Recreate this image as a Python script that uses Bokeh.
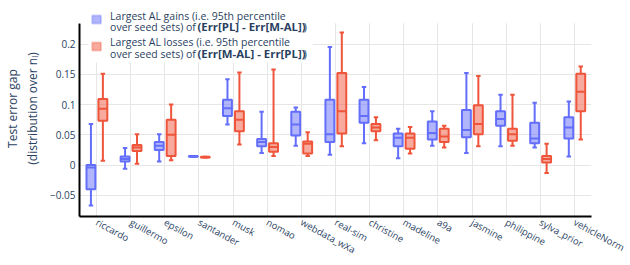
import pandas as pd
from bokeh.plotting import figure
from bokeh.models import (ColumnDataSource, FactorRange, Range1d, FixedTicker,
                          CustomJSTickFormatter, BoxAnnotation, Label)
from bokeh.transform import dodge
from bokeh.embed import file_html
from bokeh.resources import INLINE

categories = ["riccardo", "guillermo", "epsilon", "santander", "musk", "nomao",
              "webdata_wXa", "real-sim", "christine", "madeline", "a9a", "jasmine",
              "philippine", "sylva_prior", "vehicleNorm"]

# Largest AL gains (blue)
gain_lo  = [-0.067, -0.006, 0.006, 0.0135, 0.067, 0.020, 0.032, 0.017, 0.036, 0.011, 0.032, 0.020, 0.031, 0.029, 0.014]
gain_q1  = [-0.040, 0.006, 0.025, 0.0135, 0.081, 0.031, 0.049, 0.038, 0.070, 0.031, 0.042, 0.046, 0.065, 0.036, 0.044]
gain_med = [-0.004, 0.010, 0.032, 0.0142, 0.094, 0.038, 0.067, 0.051, 0.081, 0.045, 0.053, 0.058, 0.076, 0.044, 0.062]
gain_q3  = [0.000, 0.014, 0.038, 0.0150, 0.108, 0.043, 0.088, 0.108, 0.108, 0.052, 0.072, 0.091, 0.089, 0.070, 0.079]
gain_hi  = [0.068, 0.028, 0.051, 0.0150, 0.142, 0.088, 0.095, 0.195, 0.129, 0.060, 0.089, 0.152, 0.116, 0.103, 0.105]

# Largest AL losses (red)
loss_lo  = [0.007, 0.002, 0.008, 0.0125, 0.034, 0.015, 0.015, 0.031, 0.041, 0.019, 0.029, 0.031, 0.032, -0.013, 0.042]
loss_q1  = [0.073, 0.023, 0.015, 0.0125, 0.056, 0.022, 0.019, 0.052, 0.056, 0.027, 0.038, 0.051, 0.040, 0.004, 0.089]
loss_med = [0.093, 0.029, 0.050, 0.0130, 0.075, 0.030, 0.035, 0.089, 0.062, 0.045, 0.047, 0.068, 0.051, 0.010, 0.121]
loss_q3  = [0.109, 0.033, 0.075, 0.0135, 0.089, 0.036, 0.039, 0.152, 0.068, 0.052, 0.060, 0.099, 0.060, 0.015, 0.151]
loss_hi  = [0.151, 0.051, 0.100, 0.0135, 0.153, 0.158, 0.054, 0.219, 0.079, 0.063, 0.065, 0.147, 0.116, 0.035, 0.163]

y_ticks = [-0.05, 0.0, 0.05, 0.1, 0.15, 0.2]
Y_MIN, Y_MAX = -0.0851, 0.2344      # visible axis extent
Y_TOP = 0.2720                      # frame extended up to host the legend

BLUE = "#636efa"
RED = "#ef553b"
TXT = "#2a3f5f"
FONT = "Open Sans"

p = figure(x_range=FactorRange(factors=categories), y_range=Range1d(Y_MIN, Y_TOP),
           width=630, height=265, output_backend="svg", toolbar_location=None,
           min_border_left=67, min_border_right=39, min_border_top=0, min_border_bottom=49)
p.outline_line_color = None
p.background_fill_color = "white"
p.border_fill_color = "white"

BW = 0.26
CAP = 0.13

def draw(lo, q1, med, q3, hi, off, color):
    df = pd.DataFrame(dict(cat=categories, lo=lo, q1=q1, med=med, q3=q3, hi=hi))
    src = ColumnDataSource(df)
    xc = dodge("cat", off, range=p.x_range)
    p.segment(x0=xc, x1=xc, y0="lo", y1="q1", source=src, line_color=color, line_width=2)
    p.segment(x0=xc, x1=xc, y0="q3", y1="hi", source=src, line_color=color, line_width=2)
    xl = dodge("cat", off - CAP / 2, range=p.x_range)
    xr = dodge("cat", off + CAP / 2, range=p.x_range)
    p.segment(x0=xl, x1=xr, y0="hi", y1="hi", source=src, line_color=color, line_width=2)
    p.segment(x0=xl, x1=xr, y0="lo", y1="lo", source=src, line_color=color, line_width=2)
    p.vbar(x=xc, width=BW, bottom="q1", top="q3", source=src, fill_color=color,
           fill_alpha=0.5, line_color=color, line_width=2)
    bl = dodge("cat", off - BW / 2, range=p.x_range)
    br = dodge("cat", off + BW / 2, range=p.x_range)
    p.segment(x0=bl, x1=br, y0="med", y1="med", source=src, line_color=color, line_width=2)

draw(gain_lo, gain_q1, gain_med, gain_q3, gain_hi, -0.165, BLUE)
draw(loss_lo, loss_q1, loss_med, loss_q3, loss_hi, 0.185, RED)

# grids
for g in (p.xgrid, p.ygrid):
    g.grid_line_color = "#e6e6e6"
    g.grid_line_width = 1
p.ygrid.ticker = FixedTicker(ticks=y_ticks)

# axes
p.yaxis.ticker = FixedTicker(ticks=y_ticks)
p.yaxis.bounds = (Y_MIN, Y_MAX)
p.yaxis.formatter = CustomJSTickFormatter(
    code="return tick < 0 ? '\u2212' + (-tick).toString() : tick.toString();")
for ax in (p.xaxis[0], p.yaxis[0]):
    ax.axis_line_color = "black"
    ax.axis_line_width = 2
    ax.major_tick_line_color = None
    ax.minor_tick_line_color = None
    ax.major_tick_out = 0
    ax.major_tick_in = 0
    ax.minor_tick_out = 0
    ax.minor_tick_in = 0
    ax.major_label_text_font = FONT
    ax.major_label_text_color = TXT
p.yaxis.major_label_text_font_size = "10px"
p.xaxis.major_label_text_font_size = "9.5px"
p.yaxis.major_label_standoff = 4
p.xaxis.major_label_standoff = 5
p.xaxis.major_label_orientation = -0.5

p.yaxis.axis_label = "Test error gap\n(distribution over n\u2097)"
p.yaxis.axis_label_text_font = FONT
p.yaxis.axis_label_text_font_size = "12px"
p.yaxis.axis_label_text_font_style = "normal"
p.yaxis.axis_label_text_color = TXT
p.yaxis.axis_label_standoff = 6

# white band above the plotting area (hides grid lines there)
p.add_layout(BoxAnnotation(bottom=Y_MAX, fill_color="white", fill_alpha=1.0, line_color=None))

# legend (drawn manually to allow bold runs)
p.add_layout(BoxAnnotation(left=0.26, right=6.84, bottom=0.1694,
                           fill_color="white", fill_alpha=1.0, line_color=None))
icon_rows = [(0.2472, 0.2339, BLUE), (0.2025, 0.1892, RED)]
for top, bottom, col in icon_rows:
    p.add_layout(BoxAnnotation(left=0.372, right=0.63, top=top, bottom=bottom,
                               fill_color=col, fill_alpha=0.5, line_color=col, line_width=2))

legend_lines = [
    (0.896, 0.2472, "Largest AL gains (i.e. 95th percentile", "normal", "10.5px"),
    (0.896, 0.2290, "over seed sets) of ", "normal", "10.5px"),
    (3.455, 0.2290, "(Err[PL] - Err[M-AL])", "bold", "11.4px"),
    (6.57, 0.2290, ")", "normal", "10.5px"),
    (0.896, 0.2041, "Largest AL losses (i.e. 95th percentile", "normal", "10.5px"),
    (0.896, 0.1843, "over seed sets) of ", "normal", "10.5px"),
    (3.455, 0.1843, "(Err[M-AL] - Err[PL])", "bold", "11.4px"),
    (6.57, 0.1843, ")", "normal", "10.5px"),
]
for x, y, t, st, fs in legend_lines:
    p.add_layout(Label(x=x, y=y, text=t, text_font=FONT, text_font_size=fs,
                       text_font_style=st, text_color=TXT, text_baseline="middle",
                       text_align="left"))

open("out.html", "w").write(file_html(p, INLINE))
